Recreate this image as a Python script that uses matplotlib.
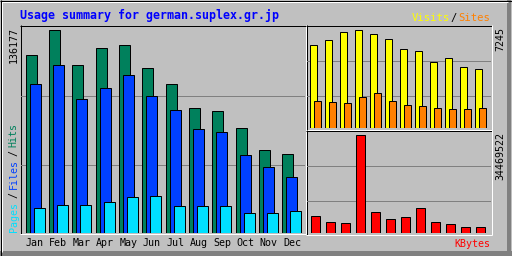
import matplotlib
matplotlib.use('Agg')
import matplotlib.pyplot as plt
from matplotlib.transforms import blended_transform_factory

# values
months = ['Jan', 'Feb', 'Mar', 'Apr', 'May', 'Jun', 'Jul', 'Aug', 'Sep', 'Oct', 'Nov', 'Dec']
hits = [119400, 136177, 112690, 124100, 126110, 110680, 99950, 83850, 81840, 70430, 55010, 52990]
files = [99950, 112690, 89890, 96600, 105320, 91900, 82510, 69760, 67750, 52320, 44270, 37560]
pages = [16100, 18780, 18780, 20790, 23480, 24820, 18110, 18110, 18110, 12750, 12750, 14090]
visits = [6136, 6432, 7097, 7245, 6876, 6506, 5767, 5619, 4806, 5175, 4436, 4288]
sites = [1996, 1922, 1848, 2218, 2514, 1996, 1700, 1626, 1405, 1331, 1331, 1405]
kbytes = [5733000, 3869000, 3166000, 34469522, 7386000, 4924000, 5276000, 8442000,
          3869000, 2814000, 2110000, 2110000]
title = 'Usage summary for german.suplex.gr.jp'

W, H = 512, 256
LW = 0.72  # one pixel at 100 dpi
GREY, DKGREY = '#C0C0C0', '#808080'
C_HITS, C_FILES, C_PAGES = '#00805C', '#0040FF', '#00E0FF'
C_VISITS, C_SITES, C_KB = '#FFFF00', '#FF8000', '#FF0000'
MONO = 'DejaVu Sans Mono'

fig = plt.figure(figsize=(W / 100, H / 100), dpi=100, facecolor=GREY)

# pixel-space axes for frame, bevels and texts
bg = fig.add_axes([0, 0, 1, 1])
bg.set_xlim(0, W)
bg.set_ylim(H, 0)
bg.axis('off')


def hline(y, x0, x1, c):
    bg.plot([x0, x1 + 1], [y + 0.5, y + 0.5], color=c, lw=LW, solid_capstyle='butt')


def vline(x, y0, y1, c):
    bg.plot([x + 0.5, x + 0.5], [y0, y1 + 1], color=c, lw=LW, solid_capstyle='butt')


# outer border with bevel
bg.fill_between([507, 511], 0, 256, color=DKGREY, lw=0)
bg.fill_between([0, 512], 251, 256, color=DKGREY, lw=0)
hline(1, 1, 507, 'white')
vline(1, 1, 251, 'white')
hline(0, 0, 511, 'black')
hline(255, 0, 511, 'black')
vline(0, 0, 255, 'black')
vline(511, 0, 255, 'black')

# inset panel frames
for x0, y0, x1, y1 in [(20, 25, 305, 233), (306, 25, 491, 129), (306, 130, 491, 234)]:
    hline(y0, x0, x1, 'black')
    vline(x0, y0, y1, 'black')
    hline(y1, x0, x1, 'white')
    vline(x1, y0, y1, 'white')


def panel(x0, x1, y0, y1):
    ax = fig.add_axes([x0 / W, 1 - y1 / H, (x1 - x0) / W, (y1 - y0) / H])
    ax.set_facecolor('none')
    ax.axis('off')
    return ax


idx = list(range(12))

# main panel: hits / files / pages
ax1 = panel(21, 305, 26, 232.5)
step = 23.36
x0 = -4.5 / step
ax1.set_xlim(x0, x0 + 284 / step)
top1 = max(hits) * 206.5 / 203
ax1.set_ylim(0, top1)
for f in (0.325, 0.663):
    ax1.axhline(top1 * f, color=DKGREY, lw=LW, zorder=0)
bw = 11 / step
off = 4 / step
ax1.bar(idx, hits, bw, align='edge', color=C_HITS, edgecolor='black', lw=LW)
ax1.bar([i + off for i in idx], files, bw, align='edge', color=C_FILES, edgecolor='black', lw=LW)
ax1.bar([i + 2 * off for i in idx], pages, bw, align='edge', color=C_PAGES, edgecolor='black', lw=LW)
tr = blended_transform_factory(ax1.transData, bg.transData)
for i, m in enumerate(months):
    ax1.text(i + 9.5 / step, 246.5, m, transform=tr, ha='center', va='baseline',
             family=MONO, fontsize=7.2, color='black')

# upper right: visits / sites
ax2 = panel(307, 491, 26, 127.5)
x0 = -2.5 / 15
ax2.set_xlim(x0, x0 + 184 / 15)
top2 = max(visits) * 101.5 / 98
ax2.set_ylim(0, top2)
for f in (0.315, 0.66):
    ax2.axhline(top2 * f, color=DKGREY, lw=LW, zorder=0)
ax2.bar(idx, visits, 7 / 15, align='edge', color=C_VISITS, edgecolor='black', lw=LW)
ax2.bar([i + 4 / 15 for i in idx], sites, 7 / 15, align='edge', color=C_SITES, edgecolor='black', lw=LW)

# lower right: kbytes
ax3 = panel(307, 491, 131, 232.5)
x0 = -3.5 / 15
ax3.set_xlim(x0, x0 + 184 / 15)
top3 = max(kbytes) * 101.5 / 98
ax3.set_ylim(0, top3)
for f in (0.315, 0.66):
    ax3.axhline(top3 * f, color=DKGREY, lw=LW, zorder=0)
ax3.bar(idx, kbytes, 9 / 15, align='edge', color=C_KB, edgecolor='black', lw=LW)

# texts
bg.text(19.5, 19, title, ha='left', va='baseline', family=MONO, fontweight='bold',
        fontsize=8.4, color='#0000FF')
bg.text(411.5, 21, 'Visits', ha='left', va='baseline', family=MONO, fontsize=7.6, color=C_VISITS)
bg.text(453.5, 21, '/', ha='center', va='baseline', family=MONO, fontsize=7.6, color='black')
bg.text(490, 21, 'Sites', ha='right', va='baseline', family=MONO, fontsize=7.6, color=C_SITES)
bg.text(490, 247, 'KBytes', ha='right', va='baseline', family=MONO, fontsize=7.2, color=C_KB)

bg.text(13.5, 27, str(max(hits)), rotation=90, ha='center', va='top', family=MONO,
        fontsize=7.2, color='black')
bg.text(500, 27, str(max(visits)), rotation=90, ha='center', va='top', family=MONO,
        fontsize=7.2, color='black')
bg.text(500, 131.5, str(max(kbytes)), rotation=90, ha='center', va='top', family=MONO,
        fontsize=7.2, color='black')

bg.text(13.5, 232, 'Pages', rotation=90, ha='center', va='bottom', family=MONO, fontsize=7.2, color=C_PAGES)
bg.text(13.5, 194.5, '/', rotation=90, ha='center', va='center', family=MONO, fontsize=7.2, color='black')
bg.text(13.5, 189, 'Files', rotation=90, ha='center', va='bottom', family=MONO, fontsize=7.2, color=C_FILES)
bg.text(13.5, 152.5, '/', rotation=90, ha='center', va='center', family=MONO, fontsize=7.2, color='black')
bg.text(13.5, 147, 'Hits', rotation=90, ha='center', va='bottom', family=MONO, fontsize=7.2, color=C_HITS)

fig.savefig('out.png', dpi=100, facecolor=GREY)
